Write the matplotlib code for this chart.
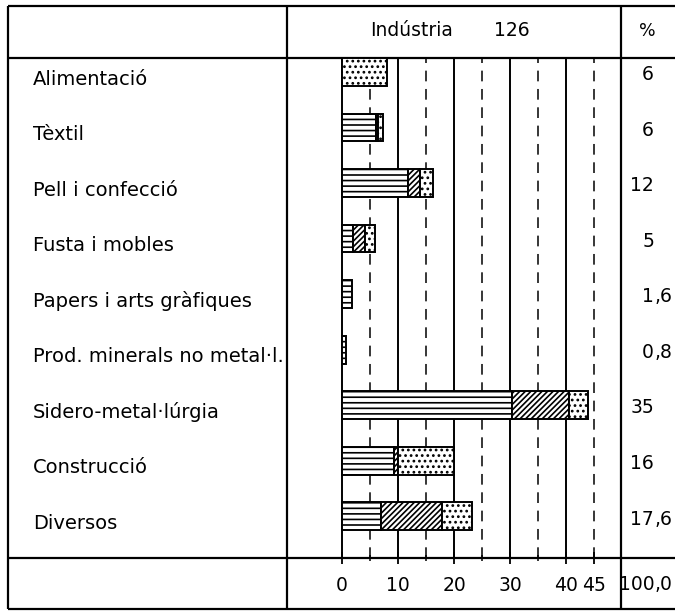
import numpy as np
import matplotlib
matplotlib.use('Agg')
import matplotlib.pyplot as plt
from matplotlib.transforms import blended_transform_factory

# data
categories = ['Alimentació', 'Tèxtil', 'Pell i confecció', 'Fusta i mobles',
              'Papers i arts gràfiques', 'Prod. minerals no metal·l.',
              'Sidero-metal·lúrgia', 'Construcció', 'Diversos']
lined = np.array([0, 6.0, 11.8, 2.0, 1.8, 0.7, 30.4, 9.2, 6.9])
hatched = np.array([0, 0.5, 2.1, 2.1, 0, 0, 10.2, 0.8, 10.9])
dotted = np.array([8.0, 0.8, 2.4, 1.8, 0, 0, 3.3, 10.0, 5.4])
percent = ['6', '6', '12', '5', '1,6', '0,8', '35', '16', '17,6']
percent_total = '100,0'
header = 'Indústria'
header_n = '126'
solid_x = [0, 10, 20, 30, 40]
dashed_x = [5, 15, 25, 35, 45]
tick_x = [0, 10, 20, 30, 40, 45]

W, H = 675, 612
fs = 13.5
plt.rcParams['hatch.linewidth'] = 1.2
fig = plt.figure(figsize=(W / 100, H / 100), dpi=100)

# frame axes in pixel units for the table lines
frame = fig.add_axes([0, 0, 1, 1])
frame.set_xlim(0, W)
frame.set_ylim(H, 0)
frame.axis('off')

lw = 1.6
for yy in [6, 58, 558, 609]:
    frame.plot([8, W], [yy, yy], color='k', lw=lw, solid_capstyle='butt')
for xx in [8, 287, 621]:
    frame.plot([xx, xx], [6, 609], color='k', lw=lw, solid_capstyle='butt')

# bar area
ax = fig.add_axes([287 / W, (H - 558) / H, (621 - 287) / W, 500 / H])
ax.set_xlim(-(342 - 287) / 5.6, (621 - 342) / 5.6)
ax.set_ylim(len(categories), 0)
for s in ax.spines.values():
    s.set_visible(False)
ax.patch.set_alpha(0)

for v in solid_x:
    ax.axvline(v, color='k', lw=1.4, zorder=1)
for v in dashed_x:
    ax.axvline(v, color='k', lw=1.1, dashes=(7, 5), zorder=1)

y = np.arange(len(categories)) + 0.0
left = np.zeros(len(categories))
for vals, hatch in [(lined, '---'), (hatched, '//////'), (dotted, '...')]:
    m = vals > 0
    ax.barh(y[m], vals[m], left=left[m], height=0.5, align='edge',
            color='white', edgecolor='k', lw=1.4, hatch=hatch, zorder=3)
    left = left + vals

ax.set_yticks([])
ax.set_xticks(tick_x)
ax.set_xticklabels([str(t) for t in tick_x])
ax.set_xticks(dashed_x, minor=True)
ax.tick_params(axis='x', which='major', direction='inout', length=8,
               width=1.3, pad=9, labelsize=fs)
ax.tick_params(axis='x', which='minor', direction='inout', length=5, width=1.1)

# row labels and percentages
trans = blended_transform_factory(frame.transData, ax.transData)
for i, cat in enumerate(categories):
    frame.text(33, i + 0.38, cat, transform=trans, fontsize=fs + 0.5,
               ha='left', va='center')
    p = percent[i].split(',')
    frame.text(654, i + 0.3, p[0], transform=trans, fontsize=fs,
               ha='right', va='center')
    if len(p) > 1:
        frame.text(654, i + 0.3, ',' + p[1], transform=trans, fontsize=fs,
                   ha='left', va='center')

p = percent_total.split(',')
frame.text(655, 585, p[0], fontsize=fs, ha='right', va='center')
frame.text(655, 585, ',' + p[1], fontsize=fs, ha='left', va='center')

frame.text(412, 31, header, fontsize=fs, ha='center', va='center')
frame.text(512, 31, header_n, fontsize=fs, ha='center', va='center')
frame.text(647, 31, '%', fontsize=fs - 1, ha='center', va='center')

fig.savefig('out.png', dpi=100)
